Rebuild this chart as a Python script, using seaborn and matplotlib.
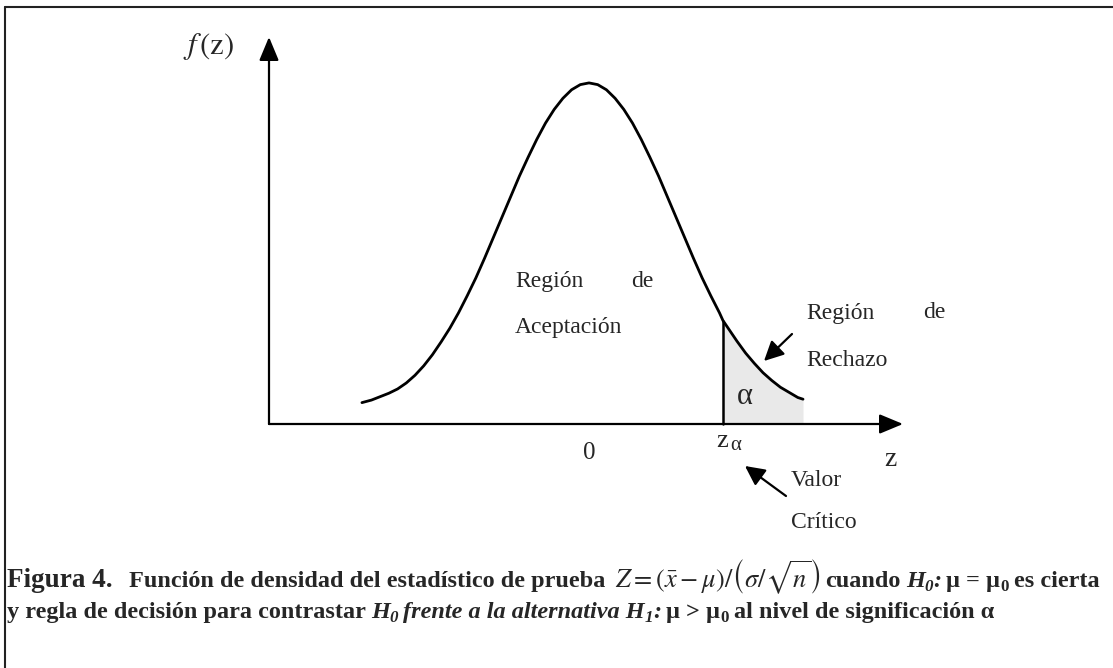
import matplotlib
matplotlib.use('Agg')
import matplotlib.pyplot as plt
from matplotlib.lines import Line2D
import seaborn as sns
import numpy as np

sns.set_theme(style='white')
plt.rcParams['font.family'] = ['Liberation Serif', 'DejaVu Serif']
plt.rcParams['mathtext.fontset'] = 'stix'

# curva de densidad (z, f(z))
z_vals = [-2.61, -2.50, -2.40, -2.30, -2.20, -2.10, -2.00, -1.90, -1.80, -1.70,
          -1.60, -1.50, -1.40, -1.30, -1.20, -1.10, -1.00, -0.90, -0.80, -0.70,
          -0.60, -0.50, -0.40, -0.30, -0.20, -0.10, 0.00, 0.10, 0.20, 0.30,
          0.40, 0.50, 0.60, 0.70, 0.80, 0.90, 1.00, 1.10, 1.20, 1.30,
          1.40, 1.50, 1.54, 1.60, 1.70, 1.80, 1.90, 2.00, 2.10, 2.20,
          2.30, 2.40, 2.46]
f_vals = [0.025, 0.028, 0.032, 0.036, 0.041, 0.048, 0.057, 0.068, 0.081, 0.096,
          0.112, 0.130, 0.150, 0.171, 0.194, 0.218, 0.242, 0.266, 0.290, 0.312,
          0.333, 0.352, 0.368, 0.381, 0.391, 0.397, 0.399, 0.397, 0.391, 0.381,
          0.368, 0.352, 0.333, 0.312, 0.290, 0.266, 0.242, 0.218, 0.194, 0.171,
          0.150, 0.130, 0.121, 0.112, 0.097, 0.083, 0.071, 0.060, 0.051, 0.043,
          0.037, 0.031, 0.029]
z_alpha = 1.54

W, H = 1113, 668
# pixel -> data mapping of the drawing
X0, Y0, SX, SY = 589, 424, 87.0, 0.3989 / 341

fig = plt.figure(figsize=(W / 100, H / 100), dpi=100)
ax = fig.add_axes([0, 0, 1, 1])
ax.set_xlim(-X0 / SX, (W - X0) / SX)
ax.set_ylim((Y0 - H) * SY, Y0 * SY)
ax.axis('off')


def px(x, y):
    return x / W, 1 - y / H


z = np.array(z_vals)
f = np.array(f_vals)
tail = z >= z_alpha
f_alpha = f[tail][0]

# region de rechazo
ax.fill_between(z[tail], 0, f[tail], color='#e9e9e9', lw=0, zorder=1)
sns.lineplot(x=z, y=f, color='black', lw=2.0, ax=ax, zorder=3,
             solid_capstyle='round', solid_joinstyle='round')
ax.plot([z_alpha, z_alpha], [0, f_alpha], color='black', lw=1.8, zorder=3)

# ejes con flechas
ax_left = (269 - X0) / SX
ax_right = (903 - X0) / SX
ax_top = (Y0 - 37) * SY
astyle = dict(arrowstyle='-|>,head_length=0.6,head_width=0.25', color='black',
              lw=1.6, shrinkA=0, shrinkB=0, mutation_scale=24)
ax.annotate('', xy=(ax_left, ax_top), xytext=(ax_left, 0), arrowprops=astyle)
ax.annotate('', xy=(ax_right, 0), xytext=(ax_left, 0), arrowprops=astyle)

# flechas pequenas
sstyle = dict(arrowstyle='-|>,head_length=0.7,head_width=0.35', color='black',
              lw=1.6, shrinkA=0, shrinkB=0, mutation_scale=17)
ax.annotate('', xy=px(764, 361), xytext=px(792, 334), xycoords='figure fraction',
            textcoords='figure fraction', arrowprops=sstyle)
ax.annotate('', xy=px(745, 466), xytext=px(786, 496), xycoords='figure fraction',
            textcoords='figure fraction', arrowprops=sstyle)

# etiquetas
fs = 17
fig.text(*px(209, 46), r'$f\,(\mathrm{z})$', fontsize=22, ha='center', va='center')
fig.text(*px(515, 282), 'Región', fontsize=fs, ha='left', va='center')
fig.text(*px(653, 282), 'de', fontsize=fs, ha='right', va='center')
fig.text(*px(515, 327), 'Aceptación', fontsize=fs, ha='left', va='center')
fig.text(*px(806, 313), 'Región', fontsize=fs, ha='left', va='center')
fig.text(*px(946, 313), 'de', fontsize=fs, ha='right', va='center')
fig.text(*px(806, 360), 'Rechazo', fontsize=fs, ha='left', va='center')
fig.text(*px(791, 480), 'Valor', fontsize=fs, ha='left', va='center')
fig.text(*px(791, 523), 'Crítico', fontsize=fs, ha='left', va='center')
ax.text(z_alpha + 0.25, 0.032, 'α', fontsize=22, ha='center', va='center')
ax.text(0, (Y0 - 453) * SY, '0', fontsize=18, ha='center', va='center')
fig.text(*px(722, 441), 'z', fontsize=19, ha='center', va='center')
fig.text(*px(736, 445), 'α', fontsize=15, ha='center', va='center')
fig.text(*px(890, 460), 'z', fontsize=20, ha='center', va='center')

# marco
fig.add_artist(Line2D([5 / W, 1], [1 - 7 / H, 1 - 7 / H], color='#222222', lw=1.5))
fig.add_artist(Line2D([5 / W, 5 / W], [1 - 7 / H, 0], color='#222222', lw=1.5))

# pie de figura, pieza a pieza
renderer = fig.canvas.get_renderer()


def put_pieces(pieces, x0, base):
    x = x0
    for s, kw, gap, dy in pieces:
        t = fig.text(x / W, 1 - (base + dy) / H, s, ha='left', va='baseline', **kw)
        x += t.get_window_extent(renderer).width + gap


cs = 17.5
B = dict(fontsize=cs, fontweight='bold')
BI = dict(fontsize=cs, fontweight='bold', style='italic')
SUB = dict(fontsize=cs * 0.7, fontweight='bold')
SUBI = dict(fontsize=cs * 0.7, fontweight='bold', style='italic')
sp = 5

line1 = [
    ('Figura 4.', dict(fontsize=19.5, fontweight='bold'), 16, 0),
    ('Función de densidad del estadístico de prueba', B, 10, 0),
    (r'$Z=\left(\bar{x}-\mu\right)/\left(\sigma/\sqrt{n}\right)$', dict(fontsize=cs + 1.5), sp, 0),
    ('cuando', B, sp, 0),
    ('H', BI, 0, 0),
    ('0', SUBI, 0, 4),
    (':', BI, sp, 0),
    ('μ = μ', B, 0, 0),
    ('0', SUB, sp, 4),
    ('es cierta', B, 0, 0),
]
line2 = [
    ('y regla de decisión para contrastar', B, sp, 0),
    ('H', BI, 0, 0),
    ('0', SUBI, sp, 4),
    ('frente a la alternativa H', BI, 0, 0),
    ('1', SUBI, 0, 4),
    (':', BI, sp, 0),
    ('μ > μ', B, 0, 0),
    ('0', SUB, sp, 4),
    ('al nivel de significación α', B, 0, 0),
]
put_pieces(line1, 7, 587)
put_pieces(line2, 7, 618)

fig.savefig('out.png', dpi=100, facecolor='white')
